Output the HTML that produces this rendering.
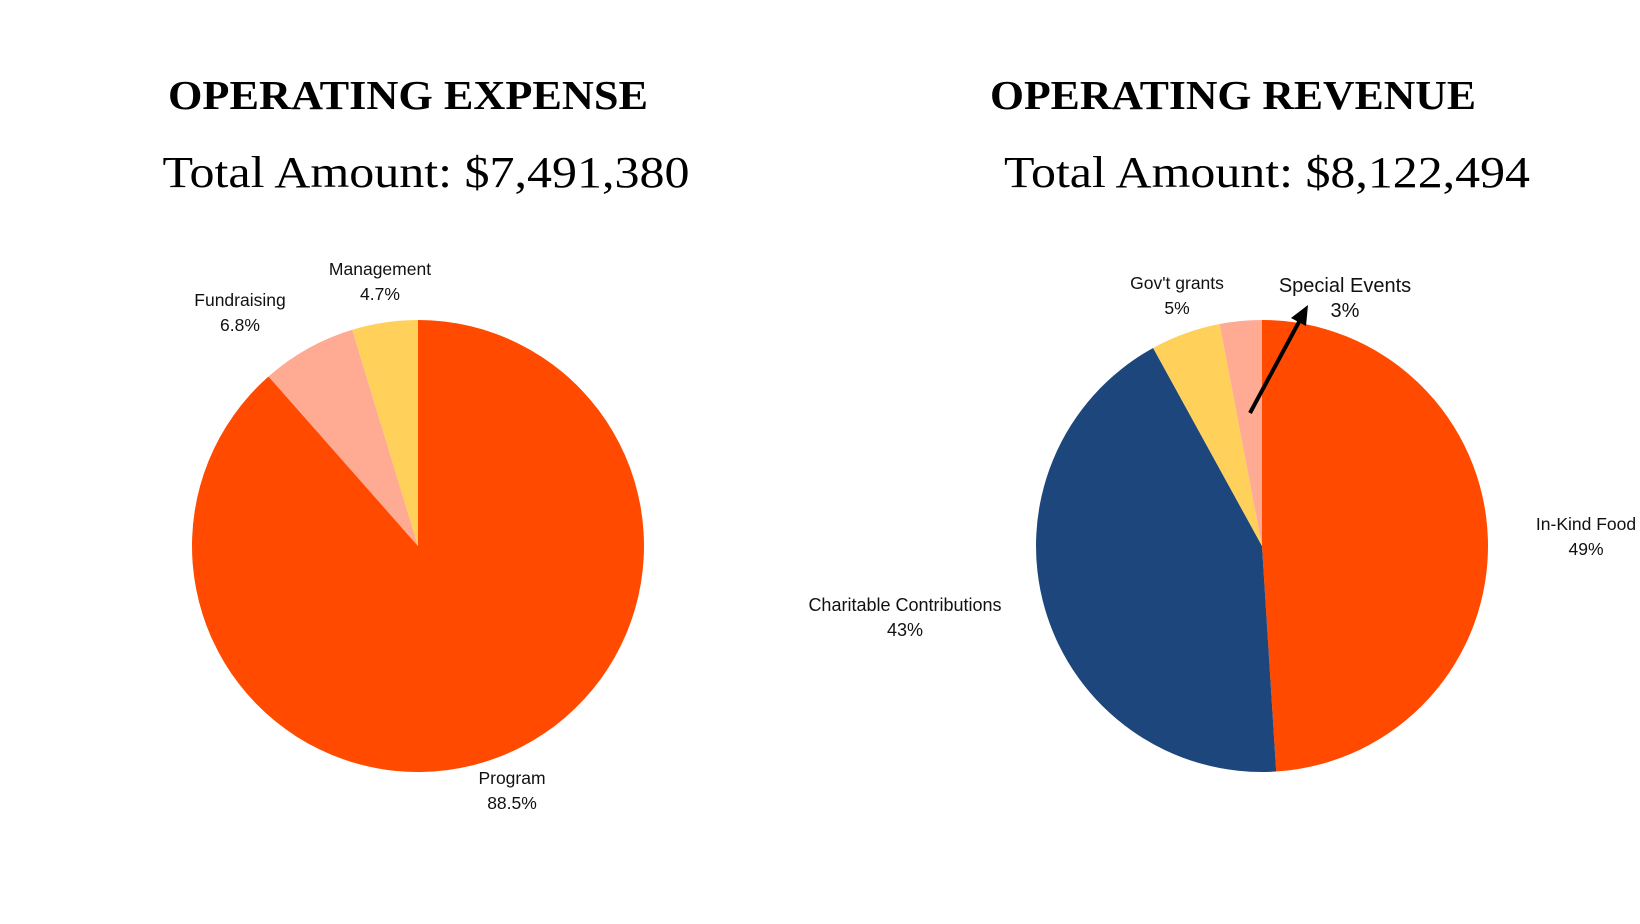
<!DOCTYPE html>
<html><head><meta charset="utf-8"><style>
html,body{margin:0;padding:0;background:#fff;width:1640px;height:924px;overflow:hidden}
text{font-family:"Liberation Sans",sans-serif;fill:#111}
.t{font-family:"Liberation Serif",serif;font-weight:bold;font-size:41px;fill:#000}
.s{font-family:"Liberation Serif",serif;font-size:44px;fill:#000}
</style></head><body>
<svg id="c" width="1640" height="924">
<text class="t" x="408" y="109" text-anchor="middle" textLength="480" lengthAdjust="spacingAndGlyphs">OPERATING EXPENSE</text>
<text class="s" x="426" y="187" text-anchor="middle" textLength="527" lengthAdjust="spacingAndGlyphs">Total Amount: $7,491,380</text>
<text class="t" x="1233" y="109" text-anchor="middle" textLength="486" lengthAdjust="spacingAndGlyphs">OPERATING REVENUE</text>
<text class="s" x="1267" y="187" text-anchor="middle" textLength="526" lengthAdjust="spacingAndGlyphs">Total Amount: $8,122,494</text>
<g id="pies"></g>
<line x1="1250" y1="413" x2="1300" y2="320" stroke="#000" stroke-width="4"/>
<polygon points="1308,305 1291,318 1306,326" fill="#000"/>
</svg>
<script>
const expenseCats = ["Program","Fundraising","Management"];
const expenseVals = [88.5,6.8,4.7];
const expenseLabels = ["88.5%","6.8%","4.7%"];
const revenueCats = ["In-Kind Food","Charitable Contributions","Gov't grants","Special Events"];
const revenueVals = [49,43,5,3];
const revenueLabels = ["49%","43%","5%","3%"];

const NS="http://www.w3.org/2000/svg";
const g=document.getElementById('pies');
function pie(cx,cy,r,vals,colors,name){
  const tot=vals.reduce((a,b)=>a+b,0);let a0=0;
  vals.forEach((v,i)=>{
    const a1=a0+v/tot*2*Math.PI;
    const x0=cx+r*Math.sin(a0),y0=cy-r*Math.cos(a0),x1=cx+r*Math.sin(a1),y1=cy-r*Math.cos(a1);
    const p=document.createElementNS(NS,'path');
    p.setAttribute('d',`M${cx},${cy}L${x0},${y0}A${r},${r} 0 ${a1-a0>Math.PI?1:0} 1 ${x1},${y1}Z`);
    p.setAttribute('fill',colors[i]);
    
    
    g.appendChild(p);a0=a1;
  });
}
pie(418,546,226,expenseVals,["#ff4a00","#ffaa92","#ffd05a"],"expense");
pie(1262,546,226,revenueVals,["#ff4a00","#1d477c","#ffd05a","#ffaa92"],"revenue");
function lab(x,y,t1,t2,fs,name){
  [[t1,y],[t2,y+25]].forEach(([t,yy],k)=>{
    const e=document.createElementNS(NS,'text');
    e.setAttribute('x',x);e.setAttribute('y',yy);e.setAttribute('text-anchor','middle');
    e.setAttribute('font-size',fs);e.textContent=t;
    
    
    g.appendChild(e);
  });
}
lab(512,784,expenseCats[0],expenseLabels[0],17.5,"program");
lab(240,306,expenseCats[1],expenseLabels[1],17.5,"fundraising");
lab(380,275,expenseCats[2],expenseLabels[2],17.5,"management");
lab(1586,530,revenueCats[0],revenueLabels[0],17.5,"in-kind-food");
lab(905,611,revenueCats[1],revenueLabels[1],18,"charitable-contributions");
lab(1177,289,revenueCats[2],revenueLabels[2],17.5,"govt-grants");
lab(1345,292,revenueCats[3],revenueLabels[3],20,"special-events");
</script>
</body></html>
